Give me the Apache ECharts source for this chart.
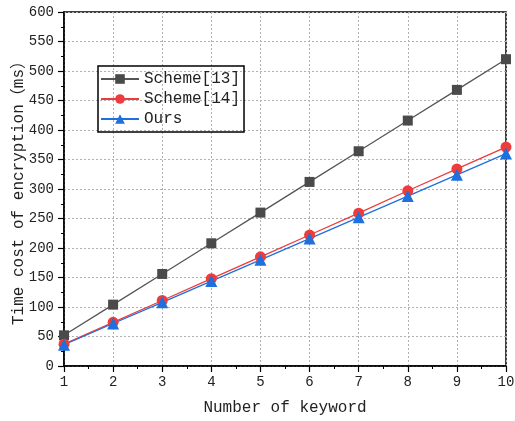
<!DOCTYPE html>
<html>
<head>
<meta charset="utf-8">
<script src="https://cdn.jsdelivr.net/npm/echarts@6/dist/echarts.min.js"></script>
<style>html,body{margin:0;padding:0;background:#fff}#c{width:515px;height:421px}</style>
</head>
<body>
<div id="c"></div>
<script>
const keywords = [1, 2, 3, 4, 5, 6, 7, 8, 9, 10];
const scheme13 = [52, 104, 156, 208, 260, 312, 364, 416, 468, 520];
const scheme14 = [37, 74, 111, 148, 185, 222, 259, 297, 334, 371];
const ours = [36, 72, 108, 144, 180, 216, 252, 288, 324, 360];
const seriesNames = ['Scheme[13]', 'Scheme[14]', 'Ours'];
const xTitle = 'Number of keyword';
const yTitle = 'Time cost of encryption（ms）';

const FONT = '"Liberation Mono", "Noto Sans CJK SC", monospace';
const pairs = arr => keywords.map((k, i) => [k, arr[i]]);

const chart = echarts.init(document.getElementById('c'), null, {renderer: 'canvas'});
const axisCommon = {
  axisLine: {show: true, lineStyle: {color: '#000', width: 1.5}},
  axisTick: {show: true, length: 6, lineStyle: {color: '#000', width: 1.2}},
  minorTick: {show: true, splitNumber: 2, length: 3, lineStyle: {color: '#000', width: 1}},
  splitLine: {show: true, lineStyle: {color: '#b0b0b0', type: [2, 2], width: 1}},
  axisLabel: {color: '#222', fontFamily: FONT, fontSize: 14},
  nameTextStyle: {color: '#222', fontFamily: FONT, fontSize: 16},
  nameMoveOverlap: false
};
chart.setOption({
  animation: false,
  grid: {left: 64, right: 9, top: 12, bottom: 55, show: true, borderColor: '#000', borderWidth: 1.5,
         containLabel: false, outerBoundsMode: 'none'},
  xAxis: Object.assign({}, axisCommon, {
    type: 'value', min: 1, max: 10, interval: 1,
    name: xTitle, nameLocation: 'middle', nameGap: 34,
    axisLabel: Object.assign({}, axisCommon.axisLabel, {margin: 9})
  }),
  yAxis: Object.assign({}, axisCommon, {
    type: 'value', min: 0, max: 600, interval: 50,
    name: yTitle, nameLocation: 'middle', nameGap: 37,
    axisLabel: Object.assign({}, axisCommon.axisLabel, {margin: 10})
  }),
  legend: {
    orient: 'vertical', left: 98, top: 66,
    borderColor: '#000', borderWidth: 1.5, padding: [5, 4, 5, 2],
    itemWidth: 38, itemHeight: 12, itemGap: 4,
    textStyle: {fontFamily: FONT, fontSize: 16, color: '#222'},
    data: seriesNames
  },
  series: [
    {name: seriesNames[0], type: 'line', data: pairs(scheme13), symbol: 'rect', symbolSize: 10,
     lineStyle: {color: '#555', width: 1.3}, itemStyle: {color: '#4a4a4a'}},
    {name: seriesNames[1], type: 'line', data: pairs(scheme14), symbol: 'circle', symbolSize: 11,
     lineStyle: {color: '#ee3c3c', width: 1.3}, itemStyle: {color: '#ee3c3c'}},
    {name: seriesNames[2], type: 'line', data: pairs(ours), symbol: 'triangle', symbolSize: 12,
     lineStyle: {color: '#1f6fdc', width: 1.3}, itemStyle: {color: '#1f6fdc'}}
  ]
});
</script>
</body>
</html>
